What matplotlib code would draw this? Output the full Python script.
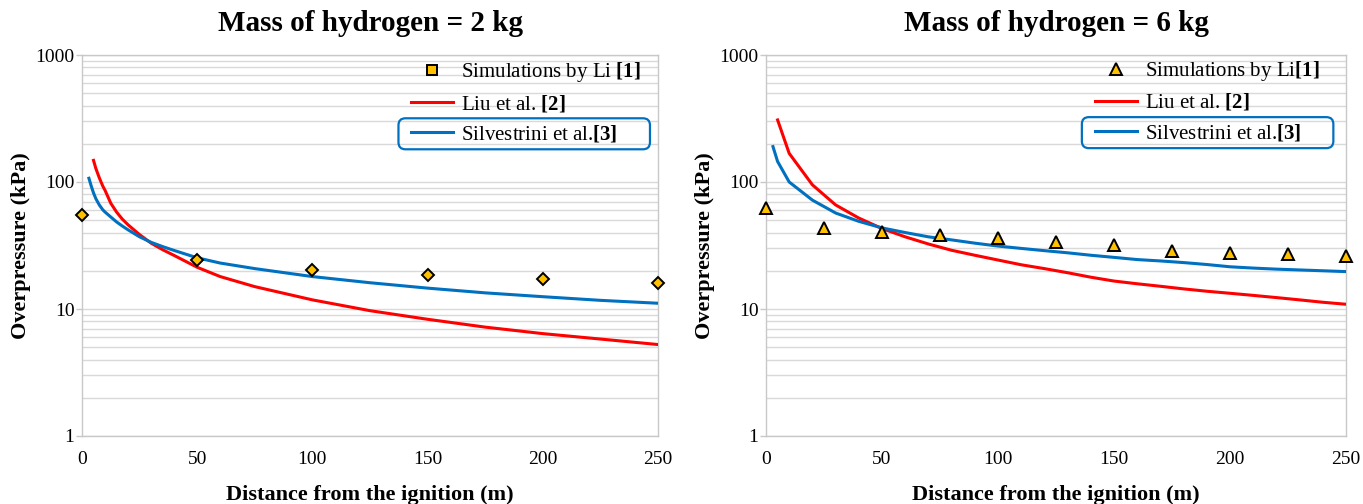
import numpy as np
import matplotlib
matplotlib.use("Agg")
import matplotlib.pyplot as plt
from matplotlib.lines import Line2D
from matplotlib.patches import FancyBboxPatch
from matplotlib.transforms import IdentityTransform
from matplotlib.ticker import FixedLocator, NullFormatter

plt.rcParams['font.family'] = ['Liberation Serif', 'DejaVu Serif']
plt.rcParams['mathtext.fontset'] = 'custom'
plt.rcParams['mathtext.rm'] = 'Liberation Serif'
plt.rcParams['mathtext.bf'] = 'Liberation Serif:bold'

# --- 2 kg of hydrogen ---
sim_x_2kg = [0, 50, 100, 150, 200, 250]
sim_p_2kg = [55, 24.3, 20.3, 18.5, 17.2, 16.0]

liu_x_2kg = [5, 6, 7.5, 9, 10, 12.5, 15, 17.5, 20, 25, 30, 35, 40, 50, 60, 75,
             100, 125, 150, 175, 200, 225, 250]
liu_p_2kg = [148, 128, 108, 93, 86, 68, 58, 51, 46, 38.5, 33, 29.3, 26.4, 21.3, 18, 15,
             11.8, 9.7, 8.3, 7.2, 6.4, 5.8, 5.25]

silv_x_2kg = [3, 4, 5, 6, 7.5, 9, 10, 12.5, 15, 17.5, 20, 25, 30, 35, 40, 50, 60, 75,
              100, 125, 150, 175, 200, 225, 250]
silv_p_2kg = [107, 93, 82, 74, 66, 60.5, 58, 53, 48.5, 45, 42, 37, 33.5, 31, 28.9, 25.3, 23, 20.8,
              18, 16.1, 14.6, 13.4, 12.5, 11.7, 11.1]

# --- 6 kg of hydrogen ---
sim_x_6kg = [0, 25, 50, 75, 100, 125, 150, 175, 200, 225, 250]
sim_p_6kg = [62, 43.2, 40.2, 38.3, 36.0, 33.9, 31.9, 28.8, 27.7, 27.0, 26.1]

liu_x_6kg = [5, 10, 20, 30, 40, 50, 60, 70, 80, 90, 100, 110, 120, 130, 140, 150,
             160, 170, 180, 190, 200, 210, 220, 230, 240, 250]
liu_p_6kg = [308, 168, 95, 66, 52, 43, 37, 32.5, 29, 26.5, 24.3, 22.3, 20.8, 19.3, 17.8, 16.6,
             15.8, 15.1, 14.4, 13.8, 13.3, 12.8, 12.3, 11.8, 11.3, 10.9]

silv_x_6kg = [3, 5, 10, 20, 30, 40, 50, 60, 70, 80, 90, 100, 110, 120, 130, 140, 150,
              160, 170, 180, 190, 200, 210, 220, 230, 240, 250]
silv_p_6kg = [190, 145, 100, 72, 57, 49, 43.5, 40, 37, 35, 33, 31.3, 30, 28.8, 27.7, 26.5, 25.5,
              24.5, 23.9, 23.2, 22.4, 21.5, 21, 20.6, 20.3, 20, 19.7]

x_ticks = [0, 50, 100, 150, 200, 250]
y_ticks = [1, 10, 100, 1000]

RED = '#ff0000'
BLUE = '#0070c0'
GOLD = '#ffc000'
GRID = '#d9d9d9'
LEG_FS = 15
LEG_HL = 2.0
LEG_PAD = 0.4

fig = plt.figure(figsize=(13.63, 5.04), dpi=100)
ax1 = fig.add_axes([82 / 1363, 68 / 504, 576 / 1363, 381 / 504])
ax2 = fig.add_axes([766 / 1363, 68 / 504, 580 / 1363, 381 / 504])


def style_axes(ax, title):
    ax.set_yscale('log')
    ax.set_xlim(0, 250)
    ax.set_ylim(1, 1000)
    ax.xaxis.set_major_locator(FixedLocator(x_ticks))
    ax.yaxis.set_major_locator(FixedLocator(y_ticks))
    ax.set_yticklabels([str(v) for v in y_ticks])
    minors = [m * 10 ** e for e in range(3) for m in range(2, 10)]
    ax.yaxis.set_minor_locator(FixedLocator(minors))
    ax.yaxis.set_minor_formatter(NullFormatter())
    ax.grid(True, axis='y', which='both', color=GRID, lw=1.0)
    ax.set_axisbelow(True)
    for s in ax.spines.values():
        s.set_color('#c8c8c8')
        s.set_linewidth(1.0)
    ax.tick_params(axis='x', length=0, pad=11, labelsize=14)
    ax.tick_params(axis='y', which='major', length=4, width=1.0, color='#c8c8c8',
                   pad=1.5, labelsize=14)
    ax.tick_params(axis='y', which='minor', length=0)
    ax.set_title(title, fontsize=21, fontweight='bold', pad=17)
    ax.set_xlabel('Distance from the ignition (m)', fontsize=16, fontweight='bold', labelpad=12)
    ax.set_ylabel('Overpressure (kPa)', fontsize=16, fontweight='bold', labelpad=3)


def add_legend(ax, marker, ms, sim_label, anchor):
    handles = [
        Line2D([], [], ls='none', marker=marker, ms=ms, mfc=GOLD, mec='black', mew=1.4),
        Line2D([], [], color=RED, lw=2.2),
        Line2D([], [], color=BLUE, lw=2.2),
    ]
    labels = [sim_label, r'Liu et al. $\mathbf{[2]}$', r'Silvestrini et al.$\mathbf{[3]}$']
    leg = ax.legend(handles, labels, loc='upper left', bbox_to_anchor=anchor,
                    frameon=False, fontsize=LEG_FS, handlelength=LEG_HL,
                    handletextpad=LEG_PAD, labelspacing=0.44, borderpad=0, borderaxespad=0)
    return leg


ax1.plot(liu_x_2kg, liu_p_2kg, color=RED, lw=2.2, zorder=3)
ax1.plot(silv_x_2kg, silv_p_2kg, color=BLUE, lw=2.2, zorder=3)
ax1.plot(sim_x_2kg, sim_p_2kg, ls='none', marker='D', ms=6.5, mfc=GOLD, mec='black',
         mew=1.4, zorder=4, clip_on=False)
style_axes(ax1, 'Mass of hydrogen = 2 kg')
leg1 = add_legend(ax1, 's', 7.5, r'Simulations by Li $\mathbf{[1]}$', (0.572, 0.987))

ax2.plot(liu_x_6kg, liu_p_6kg, color=RED, lw=2.2, zorder=3)
ax2.plot(silv_x_6kg, silv_p_6kg, color=BLUE, lw=2.2, zorder=3)
ax2.plot(sim_x_6kg, sim_p_6kg, ls='none', marker='^', ms=9, mfc=GOLD, mec='black',
         mew=1.4, zorder=4, clip_on=False)
style_axes(ax2, 'Mass of hydrogen = 6 kg')
leg2 = add_legend(ax2, '^', 9, r'Simulations by Li$\mathbf{[1]}$', (0.567, 0.99))

# rounded outline around the third legend entry
fig.canvas.draw()
renderer = fig.canvas.get_renderer()
for leg in (leg1, leg2):
    tb = leg.get_texts()[2].get_window_extent(renderer)
    fs_px = LEG_FS * fig.dpi / 72
    x0 = tb.x0 - (LEG_HL + LEG_PAD) * fs_px - 13
    x1 = tb.x1 + 32
    yc = (tb.y0 + tb.y1) / 2
    box = FancyBboxPatch((x0, yc - 15.5), x1 - x0, 31,
                         boxstyle='round,pad=0,rounding_size=7',
                         transform=IdentityTransform(), fill=False,
                         edgecolor=BLUE, lw=1.6)
    fig.add_artist(box)

fig.savefig('out.png', dpi=100)
